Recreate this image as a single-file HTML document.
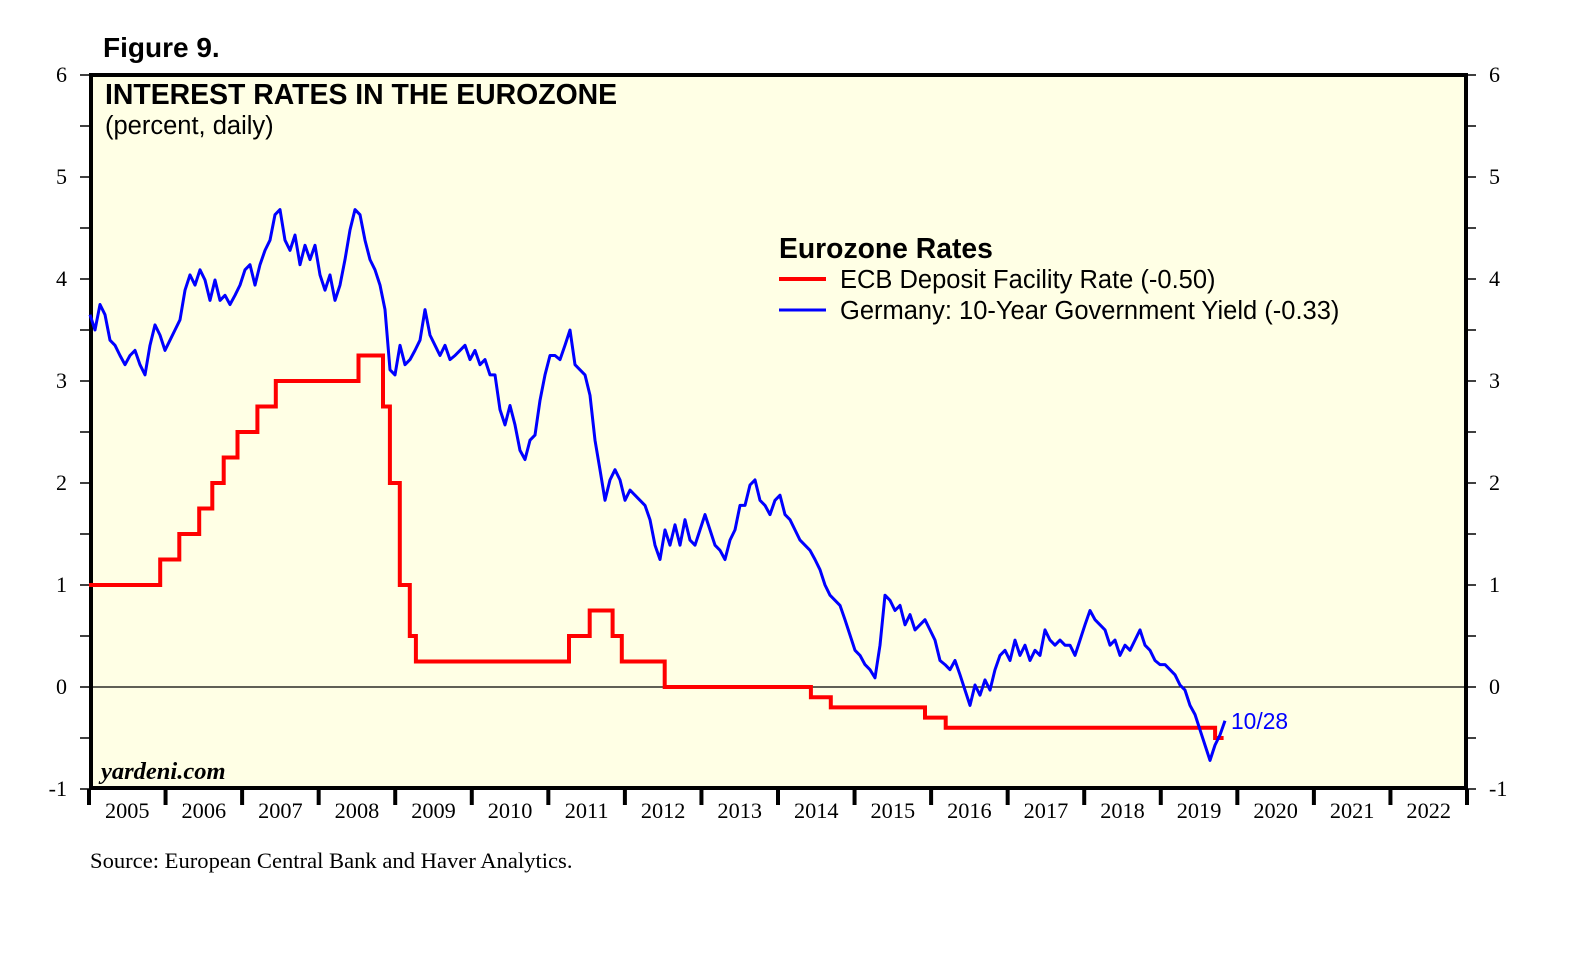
<!DOCTYPE html>
<html><head><meta charset="utf-8">
<style>
html,body{margin:0;padding:0;background:#fff;}
svg{display:block;}
text{font-family:"Liberation Sans",sans-serif;}
.serif{font-family:"Liberation Serif",serif;}
</style></head>
<body>
<svg id="chart" width="1585" height="954" viewBox="0 0 1585 954" xmlns="http://www.w3.org/2000/svg">
  <text x="103" y="57" font-size="28" font-weight="bold">Figure 9.</text>
  <rect x="91" y="75" width="1375" height="713" fill="#ffffe5" stroke="#000" stroke-width="4"/>
  <g id="axes"></g>
  <line id="zero-line" stroke="#000" stroke-width="1.2"/>
  <g id="series"></g>
  <text x="105" y="104" font-size="28.4" font-weight="bold">INTEREST RATES IN THE EUROZONE</text>
  <text x="105" y="134" font-size="25.5">(percent, daily)</text>
  <text x="779" y="258" font-size="28.3" font-weight="bold">Eurozone Rates</text>
  <line x1="779" y1="279" x2="826" y2="279" stroke="#ff0000" stroke-width="4"/>
  <text x="840" y="288" font-size="25.5">ECB Deposit Facility Rate (-0.50)</text>
  <line x1="779" y1="310" x2="826" y2="310" stroke="#0000ff" stroke-width="3"/>
  <text x="840" y="319" font-size="25.5">Germany: 10-Year Government Yield (-0.33)</text>
  <text x="1231" y="729" font-size="22.8" fill="#0000ff">10/28</text>
  <text class="serif" x="101" y="779" font-size="24.5" font-style="italic" font-weight="bold">yardeni.com</text>
  <text class="serif" x="90" y="868" font-size="22.6">Source: European Central Bank and Haver Analytics.</text>
</svg>
<script>
const yTicks = [-1,0,1,2,3,4,5,6];
const years = [2005,2006,2007,2008,2009,2010,2011,2012,2013,2014,2015,2016,2017,2018,2019,2020,2021,2022];
const ecbDates = [2005.0,2005.93,2006.18,2006.44,2006.61,2006.76,2006.94,2007.2,2007.44,2008.52,2008.84,2008.93,2009.06,2009.19,2009.27,2011.27,2011.54,2011.84,2011.96,2012.52,2014.43,2014.69,2015.92,2016.19,2019.71,2019.82];
const ecbValues = [1.00,1.25,1.50,1.75,2.00,2.25,2.50,2.75,3.00,3.25,2.75,2.00,1.00,0.50,0.25,0.50,0.75,0.50,0.25,0.00,-0.10,-0.20,-0.30,-0.40,-0.50,-0.50];
const bundStart = 2005.013;
const bundStep = 0.06531;
const bundValues = [3.65,3.50,3.75,3.65,3.40,3.35,3.25,3.16,3.25,3.30,3.16,3.06,3.35,3.55,3.45,3.30,3.40,3.50,3.60,3.89,4.04,3.94,4.09,3.99,3.79,3.99,3.79,3.84,3.75,3.84,3.94,4.09,4.14,3.94,4.14,4.28,4.38,4.63,4.68,4.38,4.28,4.43,4.14,4.33,4.19,4.33,4.04,3.89,4.04,3.79,3.94,4.19,4.48,4.68,4.63,4.38,4.19,4.09,3.94,3.70,3.11,3.06,3.35,3.16,3.21,3.30,3.40,3.70,3.45,3.35,3.25,3.35,3.21,3.25,3.30,3.35,3.21,3.30,3.16,3.21,3.06,3.06,2.72,2.57,2.76,2.57,2.32,2.23,2.42,2.47,2.81,3.06,3.25,3.25,3.21,3.35,3.50,3.16,3.11,3.06,2.86,2.42,2.13,1.83,2.03,2.13,2.03,1.83,1.93,1.88,1.83,1.78,1.64,1.39,1.25,1.54,1.39,1.59,1.39,1.64,1.44,1.39,1.54,1.69,1.54,1.39,1.34,1.25,1.44,1.54,1.78,1.78,1.98,2.03,1.83,1.78,1.69,1.83,1.88,1.69,1.64,1.54,1.44,1.39,1.34,1.25,1.15,1.00,0.90,0.85,0.80,0.66,0.51,0.36,0.31,0.22,0.17,0.09,0.41,0.90,0.85,0.75,0.80,0.61,0.71,0.56,0.61,0.66,0.56,0.46,0.26,0.22,0.17,0.26,0.12,-0.03,-0.18,0.02,-0.08,0.07,-0.03,0.17,0.31,0.36,0.26,0.46,0.31,0.41,0.26,0.36,0.31,0.56,0.46,0.41,0.46,0.41,0.41,0.31,0.46,0.61,0.75,0.66,0.61,0.56,0.41,0.46,0.31,0.41,0.36,0.46,0.56,0.41,0.36,0.26,0.22,0.22,0.17,0.12,0.02,-0.03,-0.18,-0.27,-0.42,-0.57,-0.72,-0.57,-0.47,-0.33];

const X0 = 89, X1 = 1467, Y0 = 789, Y1 = 75;
const xScale = t => X0 + (t - 2005) / 18 * (X1 - X0);
const yScale = v => Y0 - (v + 1) / 7 * (Y0 - Y1);
const NS = "http://www.w3.org/2000/svg";
function mk(tag, attrs, parent) {
  const e = document.createElementNS(NS, tag);
  for (const k in attrs) e.setAttribute(k, attrs[k]);
  parent.appendChild(e);
  return e;
}
const axes = document.getElementById('axes');
for (let i = 0; i < yTicks.length; i++) {
  const v = yTicks[i];
  const y = yScale(v);
  const tl = mk('line', {x1: 80, x2: 90, y1: y, y2: y, stroke: '#000', 'stroke-width': 1.5}, axes);
  
  
  const tr = mk('line', {x1: 1466, x2: 1476, y1: y, y2: y, stroke: '#000', 'stroke-width': 1.5}, axes);
  
  
  const lab = mk('text', {x: 67, y: y + 7, 'font-size': 22, 'text-anchor': 'end', class: 'serif'}, axes);
  lab.textContent = v;
  
  
  const labr = mk('text', {x: 1489, y: y + 7, 'font-size': 22, class: 'serif'}, axes);
  labr.textContent = v;
  
  
  if (i < yTicks.length - 1) {
    const ym = yScale(v + 0.5);
    const ml = mk('line', {x1: 80, x2: 90, y1: ym, y2: ym, stroke: '#000', 'stroke-width': 1.5}, axes);
    
    
    const mr = mk('line', {x1: 1466, x2: 1476, y1: ym, y2: ym, stroke: '#000', 'stroke-width': 1.5}, axes);
    
    
  }
}
for (let i = 0; i <= years.length; i++) {
  const x = xScale(2005 + i);
  const t = mk('line', {x1: x, x2: x, y1: 789, y2: 805, stroke: '#000', 'stroke-width': 4}, axes);
  
  
  if (i < years.length) {
    const lab = mk('text', {x: xScale(years[i] + 0.5), y: 818, 'font-size': 22.3, 'text-anchor': 'middle', class: 'serif'}, axes);
    lab.textContent = years[i];
    
    
  }
}
const z = document.getElementById('zero-line');
z.setAttribute('x1', 92); z.setAttribute('x2', 1465);
z.setAttribute('y1', yScale(0)); z.setAttribute('y2', yScale(0));

const series = document.getElementById('series');
let d = '';
for (let i = 0; i < ecbDates.length; i++) {
  const x = xScale(ecbDates[i]).toFixed(1), y = yScale(ecbValues[i]).toFixed(1);
  if (i === 0) d += 'M' + x + ',' + y;
  else d += 'H' + x + 'V' + y;
}
const ecb = mk('path', {d: d, fill: 'none', stroke: '#ff0000', 'stroke-width': 4}, series);


let d2 = '';
for (let i = 0; i < bundValues.length; i++) {
  const x = xScale(bundStart + i * bundStep).toFixed(1), y = yScale(bundValues[i]).toFixed(1);
  d2 += (i === 0 ? 'M' : 'L') + x + ',' + y;
}
const bund = mk('path', {d: d2, fill: 'none', stroke: '#0000ff', 'stroke-width': 3, 'stroke-linejoin': 'round'}, series);


</script>
</body></html>
